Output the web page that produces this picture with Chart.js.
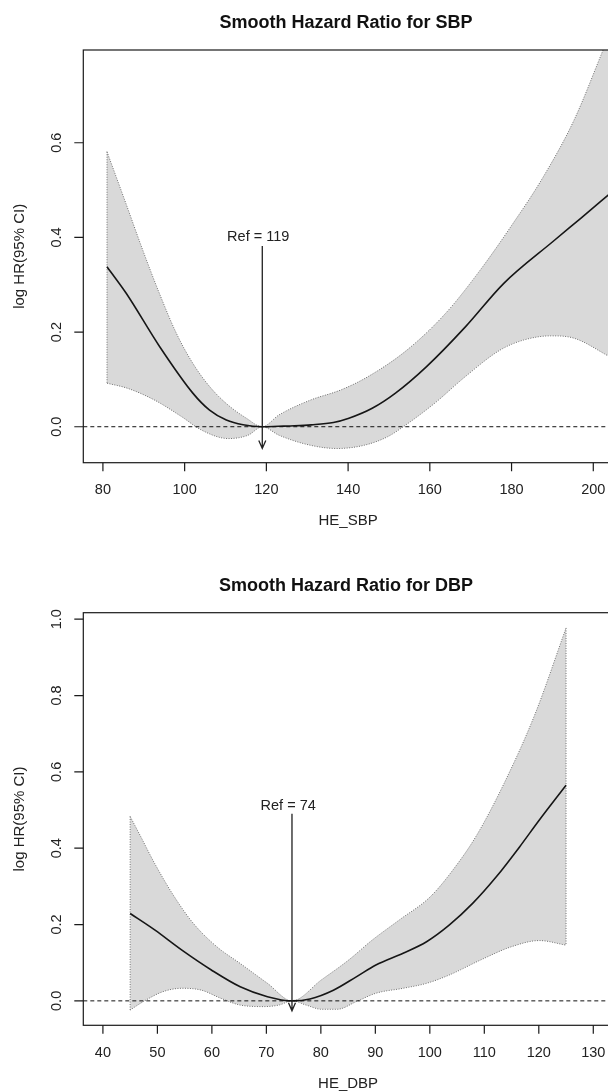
<!DOCTYPE html>
<html>
<head>
<meta charset="utf-8">
<script src="https://cdn.jsdelivr.net/npm/chart.js@4.4.1/dist/chart.umd.min.js"></script>
<style>
  html, body { margin: 0; padding: 0; background: #fff; overflow: hidden; }
  #wrap { width: 608px; height: 1092px; overflow: hidden; }
  canvas { display: block; }
</style>
</head>
<body>
<div id="wrap">
  <canvas id="sbp" width="614" height="546"></canvas>
  <canvas id="dbp" width="614" height="546"></canvas>
</div>
<script>
// ---- SBP ----
const sbpFitX = [81, 85.7, 93.9, 102, 106.1, 110.2, 114.3, 119, 123, 126.9, 131, 136.4, 140.2, 145.9, 151.6, 159.2, 168.7, 178.1, 190.5, 197, 204];
const sbpFitY = [0.338, 0.282, 0.169, 0.071, 0.035, 0.014, 0.004, 0, 0.001, 0.002, 0.004, 0.009, 0.018, 0.039, 0.071, 0.127, 0.211, 0.303, 0.394, 0.441, 0.492];
const sbpUpX = [81, 85.7, 89.8, 93.9, 98, 102, 106.1, 110.2, 115.1, 119, 123.1, 130.7, 138.3, 144.9, 154.4, 163.9, 172.5, 180, 187.7, 195.3, 202.4, 204];
const sbpUpY = [0.581, 0.47, 0.372, 0.28, 0.197, 0.134, 0.085, 0.049, 0.018, 0, 0.025, 0.056, 0.078, 0.106, 0.162, 0.24, 0.333, 0.425, 0.527, 0.648, 0.796, 0.83];
const sbpLoX = [81, 86.1, 92.7, 99.3, 104.1, 110.7, 115.5, 119, 123.1, 130.7, 137.3, 144, 149.7, 153.5, 161.1, 168.7, 177.2, 182.9, 189.6, 195.3, 204];
const sbpLoY = [0.092, 0.081, 0.056, 0.021, -0.007, -0.025, -0.018, 0, -0.018, -0.039, -0.046, -0.039, -0.021, 0, 0.049, 0.106, 0.162, 0.183, 0.192, 0.187, 0.148];
const sbpXTicks = [80, 100, 120, 140, 160, 180, 200];
const sbpYTicks = [0, 0.2, 0.4, 0.6];

// ---- DBP ----
const dbpFitX = [45, 49.5, 54.5, 59.9, 65.2, 70.2, 74.7, 78, 82.3, 86.5, 90.1, 95.1, 99.4, 103.6, 107.9, 112.2, 116.5, 120.1, 125];
const dbpFitY = [0.229, 0.186, 0.133, 0.081, 0.037, 0.011, 0, 0.005, 0.028, 0.063, 0.094, 0.125, 0.155, 0.199, 0.256, 0.325, 0.404, 0.474, 0.565];
const dbpUpX = [45, 46.7, 49.5, 53.1, 56.6, 60.9, 65.2, 70.2, 74.7, 80.1, 85.1, 89.4, 94.4, 100.1, 104.4, 108.6, 113.6, 119.3, 125];
const dbpUpY = [0.483, 0.437, 0.36, 0.273, 0.203, 0.142, 0.098, 0.046, 0, 0.055, 0.107, 0.159, 0.212, 0.273, 0.346, 0.434, 0.569, 0.751, 0.977];
const dbpLoX = [45, 47.4, 51, 54.5, 58.1, 61.6, 65.2, 69.5, 72.3, 74.7, 77.3, 80.1, 83, 86.5, 90.1, 95.1, 99.4, 103.6, 109.3, 115, 120.1, 125];
const dbpLoY = [-0.024, -0.002, 0.024, 0.033, 0.028, 0.007, -0.011, -0.015, -0.011, 0, -0.011, -0.022, -0.022, -0.002, 0.02, 0.033, 0.046, 0.068, 0.107, 0.142, 0.158, 0.146];
const dbpXTicks = [40, 50, 60, 70, 80, 90, 100, 110, 120, 130];
const dbpYTicks = [0, 0.2, 0.4, 0.6, 0.8, 1.0];

// reference arrows: [SBP, DBP]
const refValues = [119, 74.7];
const refLabels = ['Ref = 119', 'Ref = 74'];
const refLabelX = [118, 74];
const refLabelY = [0.4, 0.51];
const refTop = [0.382, 0.49];
const refTip = [-0.046, -0.026];

const FONT = "'Liberation Sans', Arial, Helvetica, sans-serif";

const pts = (xs, ys) => xs.map((x, i) => ({ x: x, y: ys[i] }));

// draws the R-style frame, ticks, titles, zero line and reference arrow
const rPlot = {
  id: 'rPlot',
  afterDatasetsDraw(chart, args, o) {
    const { ctx, chartArea: a, scales: { x, y } } = chart;
    ctx.save();

    // dashed line at log HR = 0
    const y0 = y.getPixelForValue(0);
    ctx.strokeStyle = '#111';
    ctx.lineWidth = 1;
    ctx.setLineDash([4, 3]);
    ctx.beginPath();
    ctx.moveTo(a.left, y0);
    ctx.lineTo(a.right, y0);
    ctx.stroke();
    ctx.setLineDash([]);

    // reference arrow
    const ax = x.getPixelForValue(o.ref);
    const aTop = y.getPixelForValue(o.refTop);
    const aTip = y.getPixelForValue(o.refTip);
    ctx.strokeStyle = '#222';
    ctx.lineWidth = 1.3;
    ctx.beginPath();
    ctx.moveTo(ax, aTop);
    ctx.lineTo(ax, aTip);
    ctx.moveTo(ax - 3.5, aTip - 8);
    ctx.lineTo(ax, aTip);
    ctx.lineTo(ax + 3.5, aTip - 8);
    ctx.stroke();

    ctx.fillStyle = '#222';
    ctx.font = '14.5px ' + FONT;
    ctx.textAlign = 'center';
    ctx.textBaseline = 'middle';
    ctx.fillText(o.refLabel, x.getPixelForValue(o.refLabelX), y.getPixelForValue(o.refLabelY));

    // box
    ctx.strokeStyle = '#1a1a1a';
    ctx.lineWidth = 1.2;
    ctx.strokeRect(a.left, a.top, a.right - a.left, a.bottom - a.top);

    // ticks
    ctx.beginPath();
    o.xTicks.forEach(v => {
      const px = x.getPixelForValue(v);
      ctx.moveTo(px, a.bottom);
      ctx.lineTo(px, a.bottom + 8.5);
    });
    o.yTicks.forEach(v => {
      const py = y.getPixelForValue(v);
      ctx.moveTo(a.left, py);
      ctx.lineTo(a.left - 9, py);
    });
    ctx.stroke();

    ctx.fillStyle = '#222';
    ctx.font = '14.5px ' + FONT;
    o.xTicks.forEach(v => {
      ctx.fillText(String(v), x.getPixelForValue(v), a.bottom + 27.5);
    });
    o.yTicks.forEach(v => {
      ctx.save();
      ctx.translate(a.left - 26.6, y.getPixelForValue(v));
      ctx.rotate(-Math.PI / 2);
      ctx.fillText(v.toFixed(1), 0, 0);
      ctx.restore();
    });

    // axis titles
    const cx = (a.left + a.right) / 2;
    ctx.font = '15px ' + FONT;
    ctx.fillText(o.xTitle, cx, a.bottom + 58.5);
    ctx.save();
    ctx.translate(a.left - 63.3, (a.top + a.bottom) / 2);
    ctx.rotate(-Math.PI / 2);
    ctx.fillText(o.yTitle, 0, 0);
    ctx.restore();

    // main title
    ctx.font = 'bold 18px ' + FONT;
    ctx.fillStyle = '#111';
    ctx.fillText(o.title, cx - 2, a.top - 27);

    ctx.restore();
  }
};

function makeChart(id, c) {
  const ciStyle = {
    borderColor: '#6e6e6e',
    borderWidth: 1,
    borderDash: [1, 1.5],
    pointRadius: 0,
    cubicInterpolationMode: 'monotone'
  };
  const upLast = c.upX.length - 1;
  const loLast = c.loX.length - 1;
  const leftEdge = pts([c.upX[0], c.loX[0]], [c.upY[0], c.loY[0]]);
  const rightEdge = pts([c.upX[upLast], c.loX[loLast]], [c.upY[upLast], c.loY[loLast]]);
  return new Chart(document.getElementById(id), {
    type: 'line',
    data: {
      datasets: [
        { data: pts(c.fitX, c.fitY), borderColor: '#161616', borderWidth: 1.6, pointRadius: 0, cubicInterpolationMode: 'monotone', fill: false },
        Object.assign({ data: pts(c.upX, c.upY), fill: '+1', backgroundColor: '#d9d9d9' }, ciStyle),
        Object.assign({ data: pts(c.loX, c.loY), fill: false }, ciStyle),
        Object.assign({ data: leftEdge, fill: false }, ciStyle, { cubicInterpolationMode: 'default' }),
        Object.assign({ data: rightEdge, fill: false }, ciStyle, { cubicInterpolationMode: 'default' })
      ]
    },
    options: {
      responsive: false,
      animation: false,
      devicePixelRatio: 1,
      events: [],
      layout: { padding: c.padding },
      scales: {
        x: { type: 'linear', min: c.xRange[0], max: c.xRange[1], display: false },
        y: { type: 'linear', min: c.yRange[0], max: c.yRange[1], display: false }
      },
      plugins: {
        legend: { display: false },
        tooltip: { enabled: false },
        filler: { drawTime: 'beforeDatasetsDraw' },
        rPlot: c.deco
      }
    },
    plugins: [rPlot]
  });
}

makeChart('sbp', {
  fitX: sbpFitX, fitY: sbpFitY, upX: sbpUpX, upY: sbpUpY, loX: sbpLoX, loY: sbpLoY,
  xRange: [75.2, 204.8], yRange: [-0.076, 0.796],
  padding: { left: 83.3, right: 1.1, top: 50, bottom: 83.3 },
  deco: {
    title: 'Smooth Hazard Ratio for SBP', xTitle: 'HE_SBP', yTitle: 'log HR(95% CI)',
    xTicks: sbpXTicks, yTicks: sbpYTicks,
    ref: refValues[0], refLabel: refLabels[0], refLabelX: refLabelX[0], refLabelY: refLabelY[0],
    refTop: refTop[0], refTip: refTip[0]
  }
});

makeChart('dbp', {
  fitX: dbpFitX, fitY: dbpFitY, upX: dbpUpX, upY: dbpUpY, loX: dbpLoX, loY: dbpLoY,
  xRange: [36.4, 133.6], yRange: [-0.064, 1.017],
  padding: { left: 83.3, right: 1.1, top: 66.7, bottom: 66.7 },
  deco: {
    title: 'Smooth Hazard Ratio for DBP', xTitle: 'HE_DBP', yTitle: 'log HR(95% CI)',
    xTicks: dbpXTicks, yTicks: dbpYTicks,
    ref: refValues[1], refLabel: refLabels[1], refLabelX: refLabelX[1], refLabelY: refLabelY[1],
    refTop: refTop[1], refTip: refTip[1]
  }
});
</script>
</body>
</html>
